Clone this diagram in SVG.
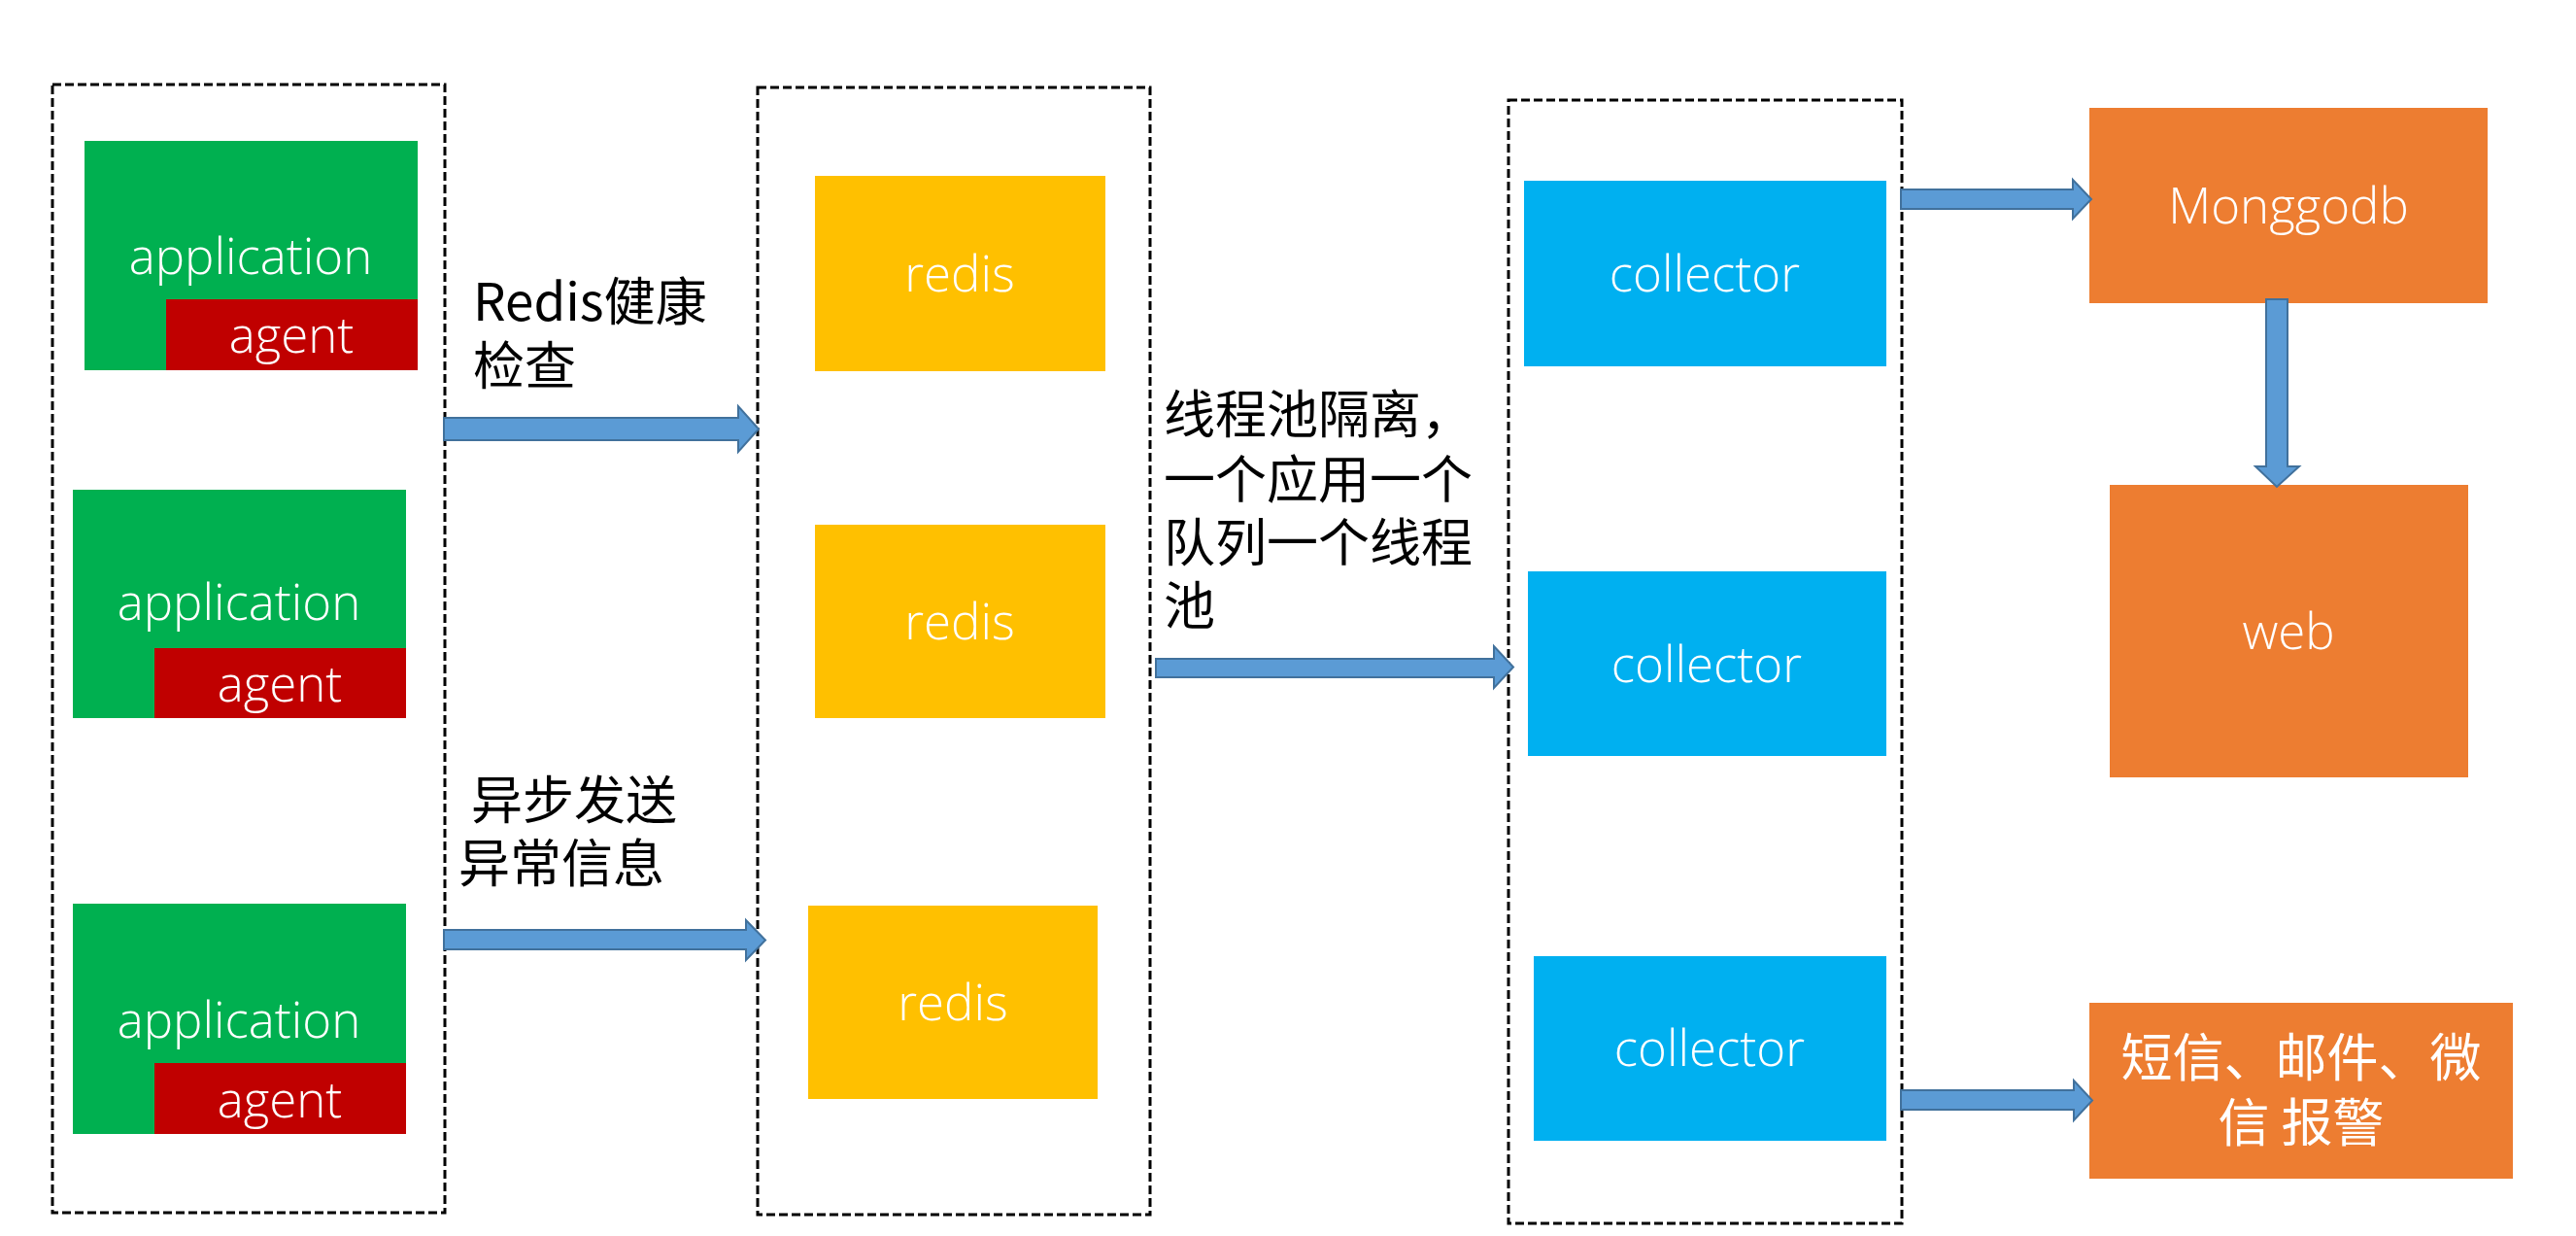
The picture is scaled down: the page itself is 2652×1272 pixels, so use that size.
<svg xmlns="http://www.w3.org/2000/svg" width="2652" height="1272" viewBox="0 0 2652 1272">
<style>
.frame{fill:none;stroke:#000;stroke-width:3;stroke-dasharray:9 4}
.app{fill:#00B050}
.agent{fill:#C00000}
.redis{fill:#FFC000}
.coll{fill:#00B0F0}
.orange{fill:#ED7D31}
.bt{font-family:"Segoe UI","Open Sans","Noto Sans","Noto Sans CJK SC",sans-serif;font-weight:300;font-size:51px;fill:#fff;text-anchor:middle}
.ct{font-family:"Noto Sans CJK SC","Noto Sans",sans-serif;font-size:53px;fill:#fff;text-anchor:middle}
.lbl{font-family:"Noto Sans CJK SC","Noto Sans",sans-serif;font-size:53px;fill:#000}
.arrow{fill:#5B9BD5;stroke:#41719C;stroke-width:2;stroke-linejoin:miter}
</style>
<rect width="2652" height="1272" fill="#fff"/>
<g id="group-apps"><rect class="frame" x="54" y="87" width="404" height="1161"/></g>
<g id="group-redis"><rect class="frame" x="780" y="90" width="404" height="1160"/></g>
<g id="group-collectors"><rect class="frame" x="1553" y="103" width="405" height="1156"/></g>

<g id="app1"><rect class="app" x="87" y="145" width="343" height="236"/><text class="bt" x="258" y="282">application</text></g>
<g id="agent1"><rect class="agent" x="171" y="308" width="259" height="73"/><text class="bt" x="300" y="363">agent</text></g>
<g id="app2"><rect class="app" x="75" y="504" width="343" height="235"/><text class="bt" x="246" y="638">application</text></g>
<g id="agent2"><rect class="agent" x="159" y="667" width="259" height="72"/><text class="bt" x="288" y="722">agent</text></g>
<g id="app3"><rect class="app" x="75" y="930" width="343" height="237"/><text class="bt" x="246" y="1068">application</text></g>
<g id="agent3"><rect class="agent" x="159" y="1094" width="259" height="73"/><text class="bt" x="288" y="1150">agent</text></g>

<g id="redis1"><rect class="redis" x="839" y="181" width="299" height="201"/><text class="bt" x="988" y="300">redis</text></g>
<g id="redis2"><rect class="redis" x="839" y="540" width="299" height="199"/><text class="bt" x="988" y="658">redis</text></g>
<g id="redis3"><rect class="redis" x="832" y="932" width="298" height="199"/><text class="bt" x="981" y="1050">redis</text></g>

<g id="collector1"><rect class="coll" x="1569" y="186" width="373" height="191"/><text class="bt" x="1755" y="300">collector</text></g>
<g id="collector2"><rect class="coll" x="1573" y="588" width="369" height="190"/><text class="bt" x="1757" y="702">collector</text></g>
<g id="collector3"><rect class="coll" x="1579" y="984" width="363" height="190"/><text class="bt" x="1760" y="1097">collector</text></g>

<g id="mongodb"><rect class="orange" x="2151" y="111" width="410" height="201"/><text class="bt" x="2356" y="230">Monggodb</text></g>
<g id="web"><rect class="orange" x="2172" y="499" width="369" height="301"/><text class="bt" x="2356" y="668">web</text></g>
<g id="alert"><rect class="orange" x="2151" y="1032" width="436" height="181"/><text class="ct"><tspan x="2369" y="1108">短信、邮件、微</tspan><tspan x="2369" y="1175">信 报警</tspan></text></g>

<g id="labels">
<text class="lbl"><tspan x="487" y="330">Redis健康</tspan><tspan x="487" y="396">检查</tspan></text>
<text class="lbl"><tspan x="485" y="843">异步发送</tspan><tspan x="472" y="908">异常信息</tspan></text>
<text class="lbl"><tspan x="1198" y="446">线程池隔离，</tspan><tspan x="1198" y="513">一个应用一个</tspan><tspan x="1198" y="578">队列一个线程</tspan><tspan x="1198" y="643">池</tspan></text>
</g>

<g id="connectors">
<polygon class="arrow" points="457,430 760,430 760,418 781,441.5 760,465 760,453 457,453"/>
<polygon class="arrow" points="457,957 768,957 768,947 788,967.5 768,988 768,977 457,977"/>
<polygon class="arrow" points="1190,678 1538,678 1538,665 1558,686.5 1538,708 1538,697 1190,697"/>
<polygon class="arrow" points="1957,195 2134,195 2134,185 2153,205 2134,225 2134,215 1957,215"/>
<polygon class="arrow" points="1957,1122 2135,1122 2135,1112 2154,1132.5 2135,1153 2135,1142 1957,1142"/>
<polygon class="arrow" points="2333,308 2355,308 2355,480 2367,480 2344,501 2322,480 2333,480"/>
</g>
</svg>
